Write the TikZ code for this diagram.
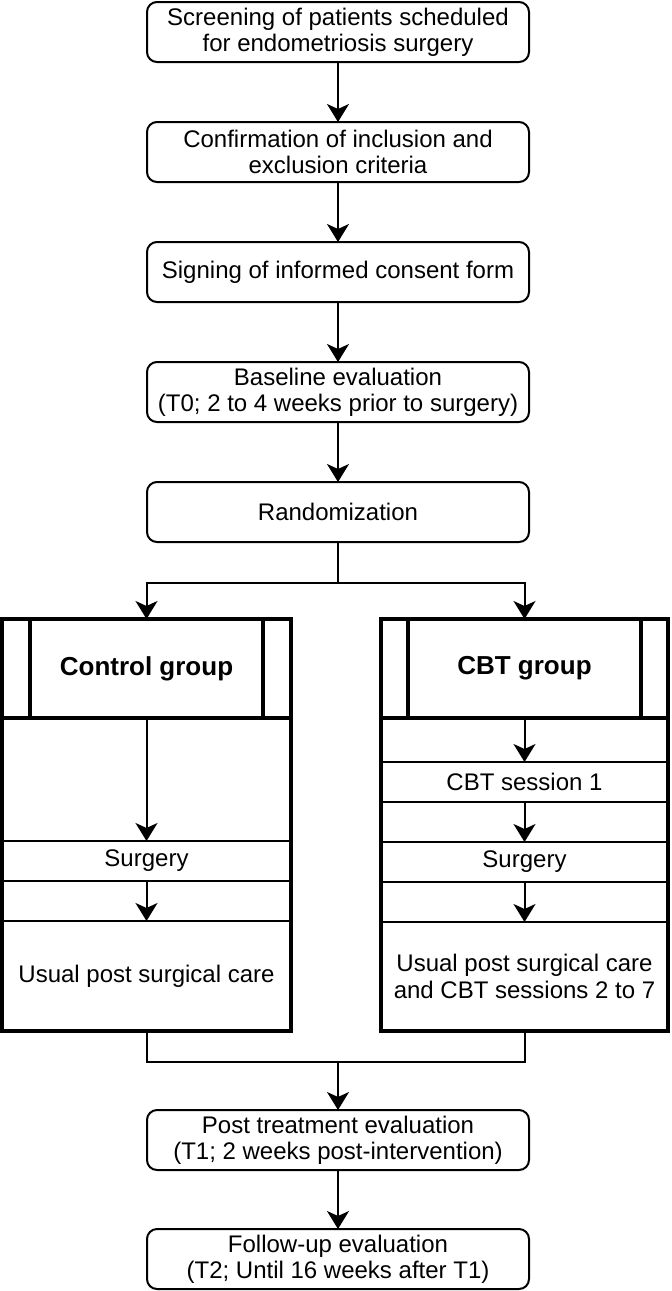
\documentclass[tikz,border=0pt]{standalone}
\usepackage{fontspec}
\setmainfont{Liberation Sans}
\usetikzlibrary{arrows.meta}
\begin{document}
\begin{tikzpicture}[x=0.5pt,y=-0.5pt,
  every node/.style={inner sep=0pt,outer sep=0pt,font=\fontsize{12}{13.2}\selectfont,align=center},
  topbox/.style={draw,line width=1pt,rounded corners=5pt,minimum width=191pt,minimum height=30pt},
  row/.style={draw,line width=1pt},
  lane/.style={draw,line width=2pt},
  arr/.style={line width=1pt,-{Stealth[length=9pt,width=11pt,inset=2.5pt]}},
  conn/.style={line width=1pt}]
\useasboundingbox (0,0) rectangle (671,1291);
% main column
\node[topbox] (b1) at (338,32) {Screening of patients scheduled\\for endometriosis surgery};
\node[topbox] (b2) at (338,152) {Confirmation of inclusion and\\exclusion criteria};
\node[topbox] (b3) at (338,272) {Signing of informed consent form};
\node[topbox] (b4) at (338,392) {Baseline evaluation\\(T0; 2 to 4 weeks prior to surgery)};
\node[topbox] (b5) at (338,512) {Randomization};
\node[topbox] (b6) at (338,1140) {Post treatment evaluation\\(T1; 2 weeks post-intervention)};
\node[topbox] (b7) at (338,1259) {Follow-up evaluation\\(T2; Until 16 weeks after T1)};
% control lane rows
\node[row,minimum width=144.5pt,minimum height=20pt] (cs) at (146.5,861) {Surgery};
\node[row,minimum width=144.5pt,minimum height=55pt] (cu) at (146.5,976) {Usual post surgical care};
% CBT lane rows
\node[row,minimum width=143.5pt,minimum height=20pt] (b1s) at (524.5,782) {CBT session 1};
\node[row,minimum width=143.5pt,minimum height=20pt] (bs) at (524.5,862) {Surgery};
\node[row,minimum width=143.5pt,minimum height=54.5pt] (bu) at (524.5,976.5) {Usual post surgical care\\and CBT sessions 2 to 7};
% lane outlines and headers
\node[lane,minimum width=144.5pt,minimum height=206pt] (cl) at (146.5,825) {};
\node[lane,minimum width=144.5pt,minimum height=49.5pt,font=\fontsize{13}{15}\selectfont\bfseries] (ch) at (146.5,668.5) {Control group};
\draw[line width=2pt] ([xshift=14pt]ch.north west) -- ([xshift=14pt]ch.south west);
\draw[line width=2pt] ([xshift=-14pt]ch.north east) -- ([xshift=-14pt]ch.south east);
\node[lane,minimum width=143.5pt,minimum height=206pt] (bl) at (524.5,825) {};
\node[lane,minimum width=143.5pt,minimum height=49.5pt,font=\fontsize{13}{15}\selectfont\bfseries] (bh) at (524.5,668.5) {CBT group};
\draw[line width=2pt] ([xshift=13.5pt]bh.north west) -- ([xshift=13.5pt]bh.south west);
\draw[line width=2pt] ([xshift=-13.5pt]bh.north east) -- ([xshift=-13.5pt]bh.south east);
% connectors
\draw[arr] (b1) -- (b2);
\draw[arr] (b2) -- (b3);
\draw[arr] (b3) -- (b4);
\draw[arr] (b4) -- (b5);
\coordinate (split) at (338,583);
\draw[conn] (b5.south) -- (split);
\draw[arr] (split) -| (ch.north);
\draw[arr] (split) -| (bh.north);
\draw[arr] (ch.south) -- (cs.north);
\draw[arr] (cs.south) -- (cu.north);
\draw[arr] (bh.south) -- (b1s.north);
\draw[arr] (b1s.south) -- (bs.north);
\draw[arr] (bs.south) -- (bu.north);
\coordinate (merge) at (338,1062);
\draw[conn] (cl.south) |- (merge);
\draw[conn] (bl.south) |- (merge);
\draw[arr] (merge) -- (b6.north);
\draw[arr] (b6) -- (b7);
\end{tikzpicture}
\end{document}
